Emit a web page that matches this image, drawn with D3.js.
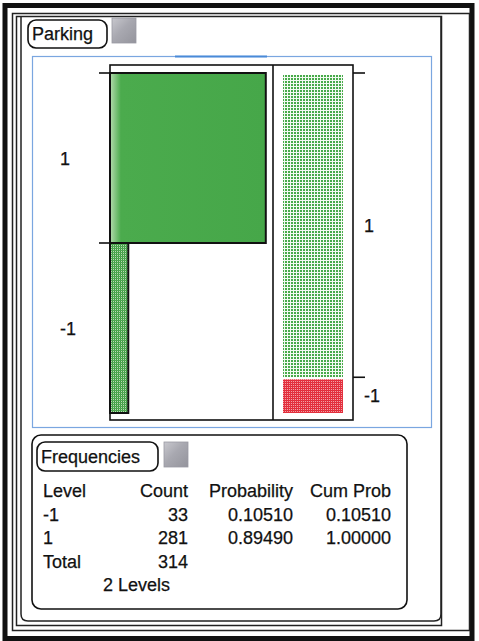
<!DOCTYPE html>
<html>
<head>
<meta charset="utf-8">
<script src="https://cdn.jsdelivr.net/npm/d3@7"></script>
<style>
  html, body { margin: 0; padding: 0; background: #ffffff; }
  svg { display: block; }
  text { font-family: "Liberation Sans", Arial, sans-serif; fill: #111; stroke: #111; stroke-width: 0.25; }
</style>
</head>
<body>
<svg id="chart" width="479" height="641"></svg>
<script>
// ---- data ----
const title = "Parking";
const levels = ["1", "-1"];            // category order top to bottom in the bar chart
const counts = [281, 33];              // counts for levels above
const tableLevels = ["-1", "1"];
const tableCounts = [33, 281];
const tableProb = ["0.10510", "0.89490"];
const tableCumProb = ["0.10510", "1.00000"];
const tableTotal = 314;
const levelCountText = "2 Levels";
const tableHeaders = ["Level", "Count", "Probability", "Cum Prob"];

const FS = 18;
const svg = d3.select("#chart");
const defs = svg.append("defs");

// patterns
const pg = defs.append("pattern").attr("id", "greenDots").attr("patternUnits", "userSpaceOnUse")
  .attr("width", 3).attr("height", 3);
pg.append("rect").attr("width", 3).attr("height", 3).attr("fill", "#f4faf3");
pg.append("rect").attr("width", 2).attr("height", 2).attr("fill", "#48aa4a");

const pg2 = defs.append("pattern").attr("id", "greenDense").attr("patternUnits", "userSpaceOnUse")
  .attr("width", 2).attr("height", 2);
pg2.append("rect").attr("width", 2).attr("height", 2).attr("fill", "#b9dcb5");
pg2.append("rect").attr("width", 1).attr("height", 2).attr("fill", "#3f9a42");
pg2.append("rect").attr("y", 0).attr("width", 2).attr("height", 1).attr("fill", "#4fa852");

const pr = defs.append("pattern").attr("id", "redDots").attr("patternUnits", "userSpaceOnUse")
  .attr("width", 2).attr("height", 2);
pr.append("rect").attr("width", 2).attr("height", 2).attr("fill", "#f2a0a6");
pr.append("rect").attr("width", 2).attr("height", 1).attr("fill", "#e02a38");
pr.append("rect").attr("width", 1).attr("height", 2).attr("fill", "#e4323f");

const gg = defs.append("linearGradient").attr("id", "bigGreen").attr("x1", 0).attr("x2", 1).attr("y1", 0).attr("y2", 0);
gg.append("stop").attr("offset", "0%").attr("stop-color", "#b4dbae");
gg.append("stop").attr("offset", "7%").attr("stop-color", "#4bab4d");
gg.append("stop").attr("offset", "100%").attr("stop-color", "#46a749");

const btn = defs.append("linearGradient").attr("id", "btnGrad").attr("x1", 0).attr("x2", 1).attr("y1", 0).attr("y2", 1);
btn.append("stop").attr("offset", "0%").attr("stop-color", "#c8c8ce");
btn.append("stop").attr("offset", "45%").attr("stop-color", "#a8a8b0");
btn.append("stop").attr("offset", "100%").attr("stop-color", "#94949c");

// ---- window frames ----
svg.append("rect").attr("x", 5).attr("y", 5.5).attr("width", 467).attr("height", 633)
  .attr("fill", "none").attr("stroke", "#111").attr("stroke-width", 5);
svg.append("rect").attr("x", 12.5).attr("y", 13.5).attr("width", 457).attr("height", 617)
  .attr("fill", "none").attr("stroke", "#222").attr("stroke-width", 1.5);
svg.append("rect").attr("x", 16.5).attr("y", 16.5).attr("width", 425).attr("height", 609)
  .attr("fill", "none").attr("stroke", "#222").attr("stroke-width", 1.5);
svg.append("path")
  .attr("d", "M21,17 L21,614 Q21,621 28,621 L434,621 Q441,621 441,614 L441,17")
  .attr("fill", "none").attr("stroke", "#222").attr("stroke-width", 1.5);

// ---- header ----
function header(x, y, w, h, label, bx, by) {
  svg.append("rect").attr("x", x).attr("y", y).attr("width", w).attr("height", h)
    .attr("rx", 8).attr("fill", "#fff").attr("stroke", "#111").attr("stroke-width", 1.6);
  svg.append("text").attr("x", x + 4).attr("y", y + h - 8).attr("font-size", FS).text(label);
  svg.append("rect").attr("x", bx).attr("y", by).attr("width", 24).attr("height", 25)
    .attr("fill", "url(#btnGrad)").attr("stroke", "#9a9aa2").attr("stroke-width", 0.8);
}
header(28, 20, 79, 28, title, 112, 18);

// ---- plot frame (blue) ----
svg.append("rect").attr("x", 32.5).attr("y", 56.5).attr("width", 399).attr("height", 371)
  .attr("fill", "none").attr("stroke", "#7aa6e0").attr("stroke-width", 1.2);
svg.append("line").attr("x1", 175).attr("x2", 267).attr("y1", 56.5).attr("y2", 56.5)
  .attr("stroke", "#4a8ad8").attr("stroke-width", 2.2);

// ---- bar chart ----
const y = d3.scaleBand().domain(levels).range([73, 413]).padding(0);
const x = d3.scaleLinear().domain([0, 294]).range([110, 273]);

const g = svg.append("g");
g.selectAll("rect.bar").data(levels).join("rect").attr("class", "bar")
  .attr("x", x(0)).attr("y", d => y(d))
  .attr("width", (d, i) => x(counts[i]) - x(0))
  .attr("height", y.bandwidth())
  .attr("fill", (d, i) => i === 0 ? "url(#bigGreen)" : "url(#greenDense)")
  .attr("stroke", "#111").attr("stroke-width", 2);

// outer box & divider
svg.append("rect").attr("x", 110).attr("y", 65).attr("width", 243).attr("height", 355)
  .attr("fill", "none").attr("stroke", "#111").attr("stroke-width", 1.6);
svg.append("line").attr("x1", 273).attr("x2", 273).attr("y1", 65).attr("y2", 420)
  .attr("stroke", "#111").attr("stroke-width", 1.6);

// left ticks & labels
g.selectAll("line.lt").data(levels).join("line").attr("class", "lt")
  .attr("x1", 99).attr("x2", 110).attr("y1", d => y(d)).attr("y2", d => y(d))
  .attr("stroke", "#111").attr("stroke-width", 1.6);
g.selectAll("text.ll").data(levels).join("text").attr("class", "ll")
  .attr("x", 60).attr("y", d => y(d) + y.bandwidth() / 2 + 6.5)
  .attr("font-size", FS).text(d => d);

// ---- mosaic (stacked) ----
const total = d3.sum(counts);
const yM = d3.scaleLinear().domain([0, 1]).range([413, 73]);
const mOrder = ["-1", "1"]; // stack bottom to top
let cum = 0;
const segs = mOrder.map(l => {
  const c = counts[levels.indexOf(l)];
  const s = { level: l, lo: cum / total, hi: (cum + c) / total };
  cum += c;
  return s;
});
const xM = d3.scaleLinear().domain([0, 1]).range([283, 343]);
svg.selectAll("rect.mos").data(segs).join("rect").attr("class", "mos")
  .attr("x", xM(0)).attr("width", xM(1) - xM(0))
  .attr("y", d => yM(d.hi) + 2)
  .attr("height", d => yM(d.lo) - yM(d.hi) - 2)
  .attr("fill", d => d.level === "-1" ? "url(#redDots)" : "url(#greenDots)");

svg.selectAll("line.rt").data(segs).join("line").attr("class", "rt")
  .attr("x1", 353).attr("x2", 365).attr("y1", d => yM(d.hi)).attr("y2", d => yM(d.hi))
  .attr("stroke", "#111").attr("stroke-width", 1.6);
svg.selectAll("text.rl").data(segs).join("text").attr("class", "rl")
  .attr("x", 364).attr("y", d => (yM(d.hi) + yM(d.lo)) / 2 + 7)
  .attr("font-size", FS).text(d => d.level);

// ---- frequencies ----
svg.append("rect").attr("x", 32).attr("y", 435).attr("width", 375).attr("height", 174)
  .attr("rx", 9).attr("fill", "none").attr("stroke", "#111").attr("stroke-width", 1.6);
header(37, 442, 121, 29, "Frequencies", 164, 442);

const colX = [43, 188, 293, 391];
const anchors = ["start", "end", "end", "end"];
const rowY = [497, 520.5, 544, 567.5, 591];
const ft = svg.append("g").attr("font-size", FS);
tableHeaders.forEach((h, i) => {
  ft.append("text").attr("x", colX[i]).attr("y", rowY[0]).attr("text-anchor", anchors[i]).text(h);
});
tableLevels.forEach((l, r) => {
  const cells = [l, String(tableCounts[r]), tableProb[r], tableCumProb[r]];
  cells.forEach((c, i) => {
    ft.append("text").attr("x", colX[i]).attr("y", rowY[r + 1]).attr("text-anchor", anchors[i]).text(c);
  });
});
ft.append("text").attr("x", colX[0]).attr("y", rowY[3]).text("Total");
ft.append("text").attr("x", colX[1]).attr("y", rowY[3]).attr("text-anchor", "end").text(String(tableTotal));
ft.append("text").attr("x", 103).attr("y", rowY[4]).text(levelCountText);
</script>
</body>
</html>
